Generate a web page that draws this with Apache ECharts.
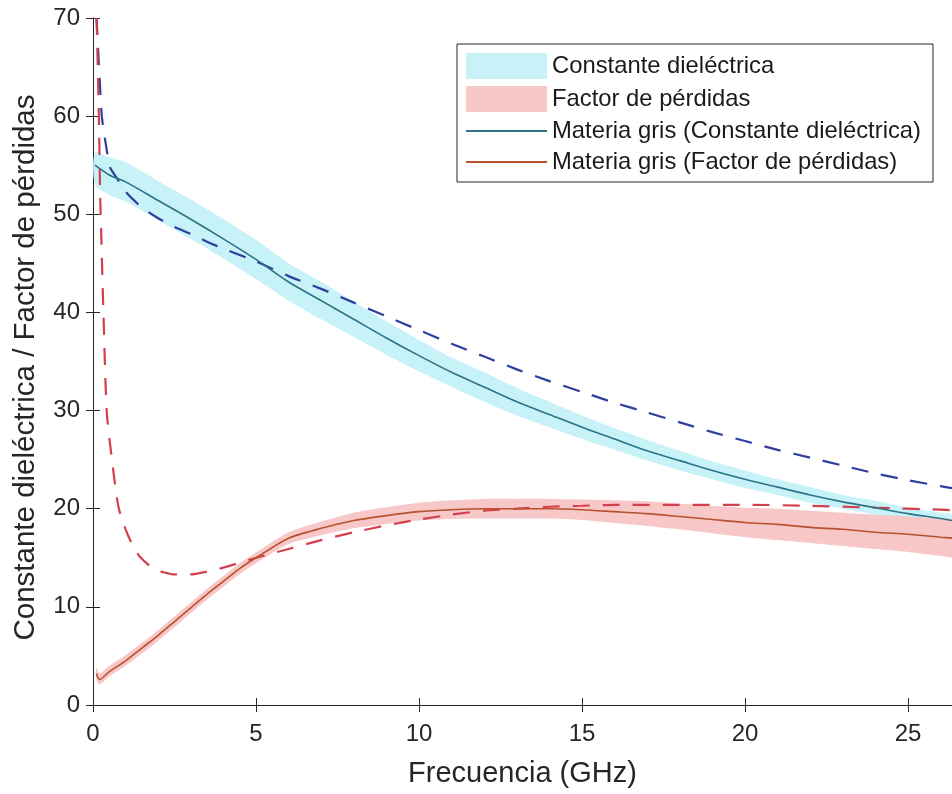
<!DOCTYPE html>
<html>
<head>
<meta charset="utf-8">
<script src="https://cdn.jsdelivr.net/npm/echarts@6/dist/echarts.min.js"></script>
<style>
  html, body { margin: 0; padding: 0; background: #ffffff; }
  #chart { width: 952px; height: 794px; }
</style>
</head>
<body>
<div id="chart"></div>
<script>
// Frequency (GHz) grid for the grey-matter permittivity curve and its band
const epsX = [0.06, 0.5, 1, 2, 3, 4, 5, 6, 7, 8, 9, 10, 11, 12, 13, 14, 15, 16, 17, 18, 19, 20, 21, 22, 23, 24, 25, 26, 26.35];
const epsLine = [55.0, 54.0, 53.3, 51.4, 49.5, 47.5, 45.4, 43.1, 41.2, 39.3, 37.4, 35.6, 33.9, 32.4, 30.9, 29.6, 28.3, 27.1, 25.9, 24.9, 23.9, 23.0, 22.2, 21.4, 20.7, 20.1, 19.5, 19.0, 18.8];
const epsLow  = [53.0, 52.0, 51.3, 49.4, 47.5, 45.5, 43.4, 41.2, 39.3, 37.5, 35.7, 34.0, 32.4, 30.9, 29.5, 28.3, 27.1, 26.0, 24.9, 23.9, 23.0, 22.1, 21.4, 20.6, 20.0, 19.4, 18.9, 18.4, 18.3];
const epsHigh = [56.3, 55.8, 55.3, 53.4, 51.5, 49.5, 47.4, 45.0, 43.1, 41.1, 39.1, 37.2, 35.4, 33.9, 32.3, 30.9, 29.5, 28.2, 27.0, 25.9, 24.8, 23.9, 23.0, 22.2, 21.4, 20.8, 20.1, 19.6, 19.4];

// Grey-matter loss factor and its band
const lossX = [0.1, 0.2, 0.5, 1, 1.5, 2, 2.5, 3, 3.5, 4, 4.5, 5, 6, 7, 8, 9, 10, 11, 12, 13, 14, 15, 16, 17, 18, 19, 20, 21, 22, 23, 24, 25, 26, 26.35];
const lossLine = [3.2, 2.6, 3.4, 4.5, 5.8, 7.1, 8.5, 9.9, 11.3, 12.6, 13.9, 15.0, 17.0, 18.0, 18.8, 19.3, 19.7, 19.9, 20.0, 20.0, 20.0, 19.9, 19.7, 19.5, 19.2, 18.9, 18.6, 18.4, 18.1, 17.9, 17.6, 17.4, 17.1, 17.0];
const lossLow  = [2.7, 2.1, 2.9, 4.0, 5.25, 6.55, 7.95, 9.35, 10.75, 12.05, 13.35, 14.45, 16.4, 17.3, 18.0, 18.45, 18.8, 18.95, 19.0, 19.0, 19.0, 18.85, 18.55, 18.25, 17.9, 17.5, 17.1, 16.8, 16.5, 16.2, 15.9, 15.6, 15.2, 15.1];
const lossHigh = [3.8, 3.2, 4.0, 5.1, 6.35, 7.65, 9.05, 10.45, 11.85, 13.15, 14.45, 15.55, 17.6, 18.7, 19.6, 20.15, 20.6, 20.85, 21.0, 21.0, 21.0, 20.95, 20.85, 20.75, 20.5, 20.3, 20.1, 20.0, 19.8, 19.6, 19.4, 19.2, 19.0, 18.9];

// Reference model curves (dashed)
const refEpsX = [0.11, 0.2, 0.27, 0.34, 0.4, 0.52, 0.73, 1.0, 1.5, 2.0, 2.5, 3.0, 3.5, 4, 5, 6, 7, 8, 9, 10, 11, 12, 13, 14, 15, 16, 17, 18, 19, 20, 21, 22, 23, 24, 25, 26, 26.35];
const refEpsY = [70, 64, 60, 58.3, 57, 54.8, 53.7, 52.3, 50.7, 49.6, 48.7, 48.0, 47.2, 46.5, 45.2, 43.7, 42.4, 41.0, 39.6, 38.2, 36.8, 35.5, 34.2, 33.0, 31.9, 30.8, 29.8, 28.8, 27.8, 26.9, 26.0, 25.2, 24.4, 23.6, 22.9, 22.3, 22.1];
const refLossX = [0.11, 0.18, 0.22, 0.26, 0.32, 0.42, 0.57, 0.78, 1.0, 1.2, 1.44, 1.85, 2.2, 2.5, 3, 3.5, 4, 4.5, 5, 6, 7, 8, 9, 10, 11, 12, 13, 14, 15, 16, 18, 20, 22, 24, 26, 26.35];
const refLossY = [70, 60, 52, 47, 40, 30, 25.3, 20.2, 17.9, 16.4, 15.1, 13.9, 13.5, 13.3, 13.3, 13.6, 14.0, 14.5, 15.0, 15.9, 16.8, 17.6, 18.3, 18.9, 19.4, 19.8, 20.0, 20.2, 20.3, 20.4, 20.4, 20.4, 20.3, 20.1, 19.9, 19.85];

// Axis ticks
const xTicks = [0, 5, 10, 15, 20, 25];
const yTicks = [0, 10, 20, 30, 40, 50, 60, 70];

const names = {
  epsBand: 'Constante dieléctrica',
  lossBand: 'Factor de pérdidas',
  epsLine: 'Materia gris (Constante dieléctrica)',
  lossLine: 'Materia gris (Factor de pérdidas)'
};

const CYAN = '#c6f2f8';
const PINK = '#f8c8c8';
const AXIS = '#262626';
const FONT = '"Liberation Sans", Arial, Helvetica, sans-serif';

const zip = (xs, ys) => xs.map((x, i) => [x, ys[i]]);

// Shaded band between a lower and an upper curve, drawn as one polygon
function bandSeries(name, color, xs, lo, hi) {
  return {
    type: 'custom', name: name, color: color, silent: true, z: 1,
    data: xs.map((x, i) => [x, lo[i], hi[i]]),
    encode: { x: 0, y: [1, 2] },
    renderItem: function (params, api) {
      if (params.dataIndex !== 0) return null;
      const upper = xs.map((x, i) => api.coord([x, hi[i]]));
      const lower = xs.map((x, i) => api.coord([x, lo[i]])).reverse();
      return {
        type: 'polygon',
        shape: { points: upper.concat(lower), smooth: 0.25 },
        style: { fill: color, stroke: null },
        clipPath: {
          type: 'rect',
          shape: { x: params.coordSys.x, y: params.coordSys.y, width: params.coordSys.width, height: params.coordSys.height }
        }
      };
    }
  };
}

function lineSeries(name, color, xs, ys, width, dash, z) {
  const s = {
    type: 'line', symbol: 'none', silent: true,
    smooth: 0.25, color: color,
    data: zip(xs, ys),
    lineStyle: { color: color, width: width, type: dash || 'solid' }, z: z
  };
  if (name) s.name = name;
  return s;
}

const chart = echarts.init(document.getElementById('chart'), null, { renderer: 'canvas' });

const xCommon = {
  type: 'value', min: 0, max: 26.35, interval: 5,
  axisLine: { show: true, lineStyle: { color: AXIS, width: 1 } },
  axisTick: { show: true, inside: true, length: 7, lineStyle: { color: AXIS }, customValues: xTicks },
  splitLine: { show: false }
};
const yCommon = {
  type: 'value', min: 0, max: 70, interval: 10,
  axisLine: { show: true, lineStyle: { color: AXIS, width: 1 } },
  axisTick: { show: true, inside: true, length: 7, lineStyle: { color: AXIS }, customValues: yTicks },
  splitLine: { show: false }
};

chart.setOption({
  animation: false,
  backgroundColor: '#ffffff',
  textStyle: { fontFamily: FONT },
  grid: { left: 93, top: 18, width: 860, height: 687 },
  xAxis: [
    Object.assign({}, xCommon, {
      position: 'bottom',
      name: 'Frecuencia (GHz)', nameLocation: 'middle', nameGap: 54,
      nameTextStyle: { fontSize: 29, color: AXIS, fontFamily: FONT },
      axisLabel: { show: true, fontSize: 24, color: AXIS, margin: 17, fontFamily: FONT, customValues: xTicks }
    }),
    Object.assign({}, xCommon, { position: 'top', axisLabel: { show: false } })
  ],
  yAxis: [
    Object.assign({}, yCommon, {
      position: 'left',
      name: 'Constante dieléctrica / Factor de pérdidas', nameLocation: 'middle', nameGap: 52,
      nameTextStyle: { fontSize: 29.5, color: AXIS, fontFamily: FONT, padding: [0, 12, 0, 0] },
      axisLabel: { show: true, fontSize: 24, color: AXIS, margin: 13, fontFamily: FONT, customValues: yTicks }
    }),
    Object.assign({}, yCommon, { position: 'right', axisLabel: { show: false } })
  ],
  legend: {
    orient: 'vertical', left: 457, top: 44,
    padding: [9, 12, 8, 8],
    itemWidth: 81, itemHeight: 26, itemGap: 7,
    backgroundColor: '#ffffff',
    borderColor: AXIS, borderWidth: 1,
    textStyle: { fontSize: 23.8, color: '#1a1a1a', fontFamily: FONT },
    selectedMode: false,
    data: [
      { name: names.epsBand, icon: 'rect', itemStyle: { color: CYAN } },
      { name: names.lossBand, icon: 'rect', itemStyle: { color: PINK } },
      { name: names.epsLine, itemStyle: { opacity: 0 } },
      { name: names.lossLine, itemStyle: { opacity: 0 } }
    ]
  },
  series: [
    bandSeries(names.epsBand, CYAN, epsX, epsLow, epsHigh),
    bandSeries(names.lossBand, PINK, lossX, lossLow, lossHigh),
    lineSeries(null, '#2f3f9e', refEpsX, refEpsY, 2.2, [17, 13], 3),
    lineSeries(null, '#d2404e', refLossX, refLossY, 2.2, [17, 13], 3),
    lineSeries(names.epsLine, '#2c7388', epsX, epsLine, 1.6, null, 4),
    lineSeries(names.lossLine, '#b8512e', lossX, lossLine, 1.6, null, 4)
  ]
});
</script>
</body>
</html>
